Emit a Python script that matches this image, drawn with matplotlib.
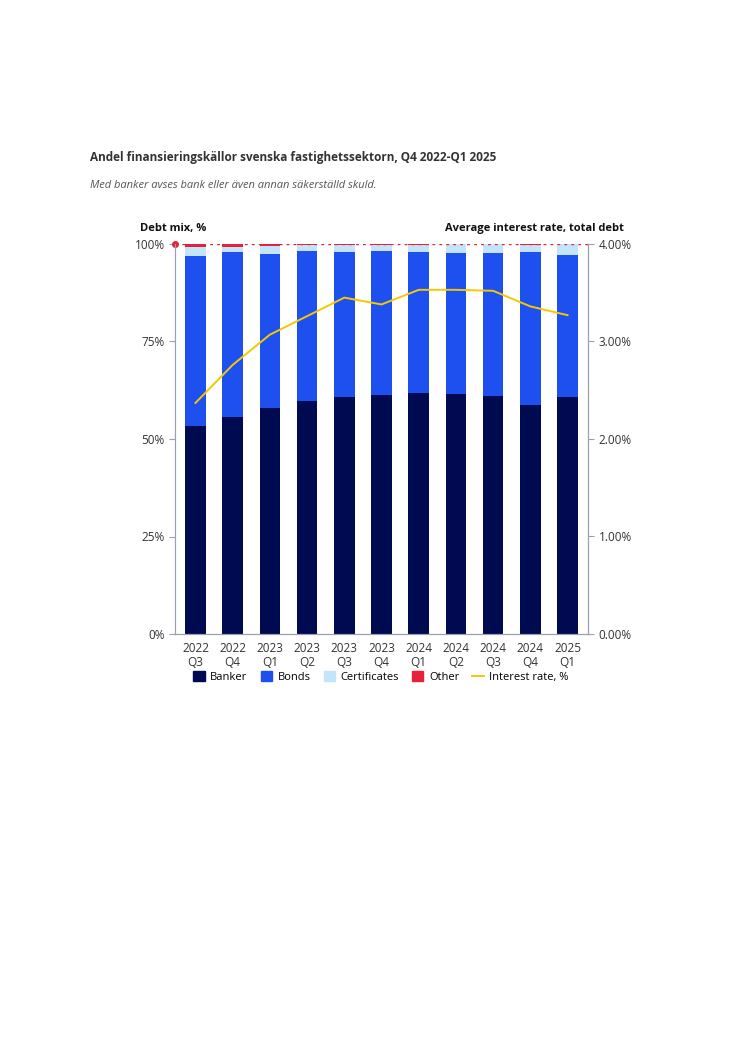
import matplotlib
matplotlib.use("Agg")
import matplotlib.pyplot as plt
from matplotlib.lines import Line2D
from matplotlib.patches import Patch

plt.rcParams["font.family"] = "Open Sans"

categories = ["2022\nQ3", "2022\nQ4", "2023\nQ1", "2023\nQ2", "2023\nQ3", "2023\nQ4",
              "2024\nQ1", "2024\nQ2", "2024\nQ3", "2024\nQ4", "2025\nQ1"]
banker = [53.3, 55.6, 58.0, 59.7, 60.7, 61.2, 61.8, 61.6, 61.0, 58.7, 60.8]
bonds_top = [97.0, 97.9, 97.5, 98.2, 98.0, 98.2, 97.9, 97.7, 97.7, 97.9, 97.2]
other = [0.8, 0.8, 0.4, 0.2, 0.3, 0.3, 0.3, 0.1, 0.1, 0.2, 0.1]
interest = [2.37, 2.76, 3.07, 3.26, 3.45, 3.38, 3.53, 3.53, 3.52, 3.36, 3.27]

bonds = [t - b for t, b in zip(bonds_top, banker)]
certs = [100 - o - t for o, t in zip(other, bonds_top)]

W, H = 746, 1056
fig = plt.figure(figsize=(W / 100, H / 100), dpi=100)
ax = fig.add_axes([175 / W, 1 - 634 / H, (588 - 175) / W, 390 / H])
x = list(range(len(categories)))
c_bank, c_bond, c_cert, c_oth = "#000a50", "#1e50f0", "#c3e4fb", "#e8213a"
bw = 0.55
ax.bar(x, banker, bw, color=c_bank, zorder=2)
ax.bar(x, bonds, bw, bottom=banker, color=c_bond, zorder=2)
ax.bar(x, certs, bw, bottom=bonds_top, color=c_cert, zorder=2)
ax.bar(x, other, bw, bottom=[100 - o for o in other], color=c_oth, zorder=2)
ax.set_xlim(-0.55, len(categories) - 0.45)
ax.set_ylim(0, 100)
ax.set_yticks([0, 25, 50, 75, 100])
ax.set_yticklabels(["0%", "25%", "50%", "75%", "100%"])
ax.set_xticks(x)
ax.set_xticklabels(categories, fontsize=8.5, color="#333333", linespacing=1.1)
ax.axhline(100, color=c_oth, ls=(0, (2, 3)), lw=1, zorder=3)
ax.plot([-0.55], [100], "o", color=c_oth, ms=4, clip_on=False, zorder=4)
for s in ["top"]:
    ax.spines[s].set_visible(False)
for s in ["left", "right", "bottom"]:
    ax.spines[s].set_color("#9aa0b0")
ax.tick_params(axis="y", labelsize=8.5, colors="#9aa0b0", labelcolor="#333333", length=4)
ax.tick_params(axis="x", length=0, pad=6)

ax2 = ax.twinx()
ax2.plot(x, interest, color="#f5c800", lw=1.4, zorder=5)
ax2.set_ylim(0, 4)
ax2.set_yticks([0, 1, 2, 3, 4])
ax2.set_yticklabels(["0.00%", "1.00%", "2.00%", "3.00%", "4.00%"])
ax2.tick_params(axis="y", labelsize=8.5, colors="#9aa0b0", labelcolor="#333333", length=4)
for s in ["top"]:
    ax2.spines[s].set_visible(False)
for s in ["left", "right", "bottom"]:
    ax2.spines[s].set_color("#9aa0b0")

fig.text(90 / W, 1 - 157 / H, "Andel finansieringskällor svenska fastighetssektorn, Q4 2022-Q1 2025",
         fontsize=8.5, fontweight="bold", color="#333333", va="center")
fig.text(90 / W, 1 - 185 / H, "Med banker avses bank eller även annan säkerställd skuld.",
         fontsize=8, style="italic", color="#555555", va="center")
fig.text(140 / W, 1 - 229 / H, "Debt mix, %", fontsize=8, fontweight="bold", color="#111111", va="center")
fig.text(624 / W, 1 - 229 / H, "Average interest rate, total debt", fontsize=8, fontweight="bold",
         color="#111111", va="center", ha="right")

handles = [Patch(color=c_bank), Patch(color=c_bond), Patch(color=c_cert), Patch(color=c_oth),
           Line2D([0], [0], color="#f5c800", lw=1.4)]
labels = ["Banker", "Bonds", "Certificates", "Other", "Interest rate, %"]
fig.legend(handles, labels, loc="center", bbox_to_anchor=(381 / W, 1 - 677 / H), ncol=5,
           frameon=False, fontsize=8, handlelength=1.0, handleheight=1.0, columnspacing=1.2,
           handletextpad=0.5)
fig.savefig("out.png", dpi=100, facecolor="white")
